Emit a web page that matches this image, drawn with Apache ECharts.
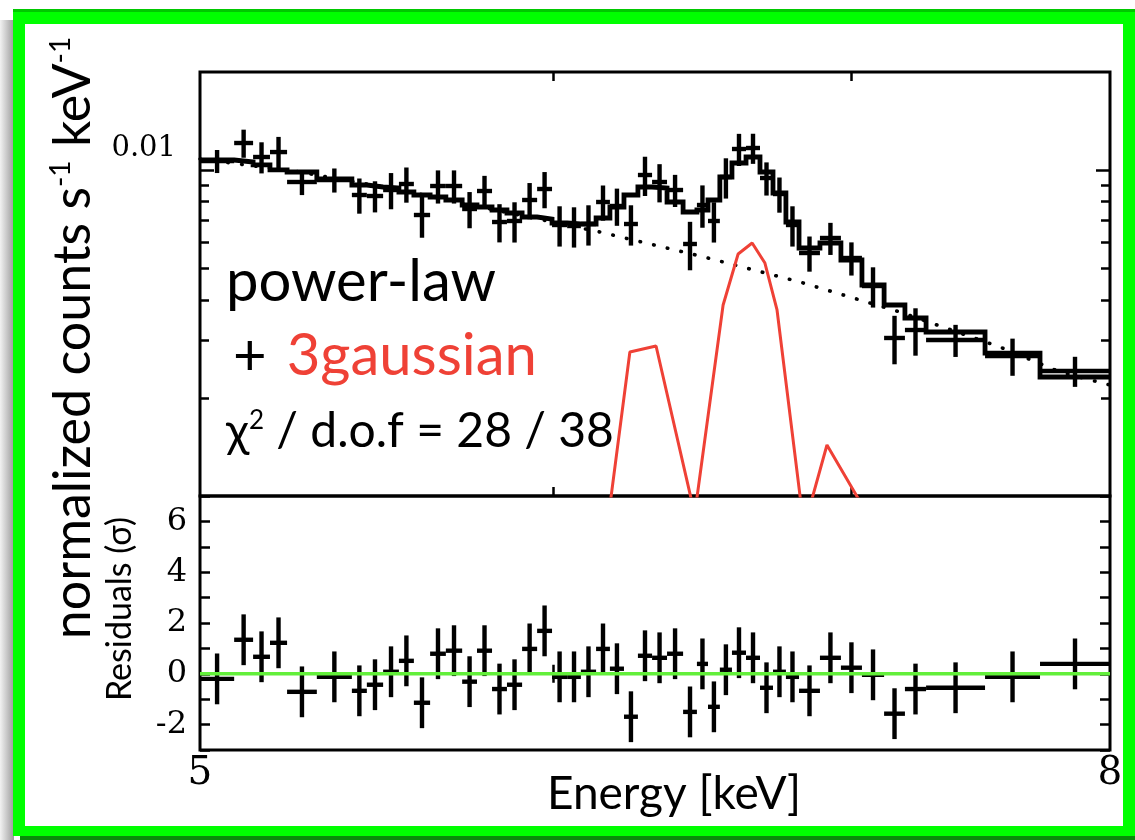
<!DOCTYPE html>
<html><head><meta charset="utf-8">
<script src="https://cdn.jsdelivr.net/npm/echarts@6/dist/echarts.min.js"></script>
<style>html,body{margin:0;padding:0;background:#fff;}#c{width:1135px;height:840px;}</style>
</head><body><div id="c"></div>
<script>
// ---- data (energy in keV) ----
const binEdges = [5.000,5.089,5.139,5.184,5.230,5.311,5.408,5.450,5.496,5.541,5.584,5.631,5.677,5.725,5.769,5.814,5.859,5.905,5.951,5.997,6.044,6.087,6.135,6.179,6.224,6.269,6.315,6.364,6.417,6.463,6.500,6.540,6.581,6.629,6.677,6.722,6.767,6.813,6.887,6.962,7.038,7.119,7.196,7.275,7.500,7.716,8.000];
const counts = [0.01066,0.01211,0.01097,0.01136,0.009194,0.009324,0.008387,0.008328,0.008688,0.009065,0.007282,0.008937,0.008937,0.007597,0.008627,0.006930,0.006980,0.008096,0.008750,0.006785,0.006737,0.006833,0.007982,0.007760,0.006833,0.009660,0.009194,0.008688,0.005933,0.007815,0.006980,0.009524,0.011608,0.011690,0.009457,0.008446,0.006785,0.005567,0.006190,0.005374,0.004409,0.003054,0.003231,0.003011,0.002689,0.002418];
const countErr = [0.000866,0.001198,0.001201,0.001284,0.000812,0.000791,0.001037,0.000912,0.001105,0.001121,0.001081,0.001042,0.001042,0.000966,0.000975,0.000930,0.000986,0.001030,0.001113,0.000959,0.000952,0.000966,0.000987,0.001014,0.000966,0.001331,0.001234,0.000982,0.001006,0.001160,0.000986,0.001346,0.001312,0.001239,0.001103,0.001044,0.000959,0.000688,0.000699,0.000627,0.000623,0.000518,0.000536,0.000340,0.000351,0.000256];
const model = [0.01074,0.01059,0.01037,0.01001,0.009867,0.009391,0.009001,0.008875,0.008812,0.008566,0.008387,0.008269,0.008096,0.007815,0.007705,0.007544,0.007385,0.007179,0.007079,0.006882,0.006833,0.006833,0.007129,0.007705,0.008387,0.008875,0.008812,0.007982,0.007438,0.007544,0.008096,0.009524,0.010514,0.010970,0.009867,0.008506,0.006930,0.005767,0.005975,0.005299,0.004441,0.003855,0.003517,0.003186,0.002746,0.002318];
const resid = [-0.2,1.34,0.67,1.22,-0.71,-0.12,-0.67,-0.43,0.08,0.51,-1.14,0.79,0.91,-0.31,0.91,-0.6,-0.43,0.98,1.69,-0.12,-0.12,0.08,0.98,0.2,-1.69,0.71,0.63,0.79,-1.5,0.39,-1.3,0.16,0.83,0.63,-0.55,0.08,-0.12,-0.67,0.63,0.24,-0.04,-1.57,-0.6,-0.55,-0.12,0.39];
const residErr = 1.0;
const contE = [5.000,5.265,5.544,5.838,6.147,6.473,6.816,7.178,7.558,7.796,8.000];
const contVal = [0.01082,0.009867,0.008688,0.007490,0.006457,0.005451,0.004536,0.003669,0.002865,0.002402,0.002191];
const g1E = [6.173,6.243,6.328,6.460];
const g1Val = [0.000844,0.002766,0.002886,0.000844];
const g2E = [6.453,6.551,6.602,6.650,6.694,6.736,6.827];
const g2Val = [0.000844,0.003855,0.005528,0.005975,0.005187,0.003722,0.000844];
const g3E = [6.838,6.912,7.038];
const g3Val = [0.000844,0.001434,0.000939];
// axis ticks / labels
const xTickVals = [6, 7];
const xLabelVals = [5, 8];
const yTopTickVals = [0.002,0.003,0.004,0.005,0.006,0.007,0.008,0.009];
const yTopMajorVals = [0.01];
const yTopLabelVals = [0.01];
const resLabelVals = [-2, 0, 2, 4, 6];

// ---- build series data ----
const crossData = counts.map((v, i) => [binEdges[i], binEdges[i+1], Math.sqrt(binEdges[i]*binEdges[i+1]), v, countErr[i]]);
const residData = resid.map((v, i) => [binEdges[i], binEdges[i+1], Math.sqrt(binEdges[i]*binEdges[i+1]), v, residErr]);
const stepData = [];
model.forEach((m, i) => { stepData.push([binEdges[i], m]); stepData.push([binEdges[i+1], m]); });
const pairs = (xs, ys) => xs.map((x, i) => [x, ys[i]]);

function crossItem(params, api) {
  const lo = api.value(0), hi = api.value(1), c = api.value(2), y = api.value(3), e = api.value(4);
  const a = api.coord([lo, y]), b = api.coord([hi, y]);
  const t = api.coord([c, y + e]), d = api.coord([c, y - e]);
  const st = {stroke: '#000', lineWidth: 4.4};
  return {type: 'group', children: [
    {type: 'line', shape: {x1: a[0], y1: a[1], x2: b[0], y2: b[1]}, style: st},
    {type: 'line', shape: {x1: t[0], y1: t[1], x2: d[0], y2: d[1]}, style: st}
  ]};
}

const tickStyle = {color: '#000', width: 2.5};
function xAx(grid, pos, labels) {
  return {
    type: 'log', logBase: 10, min: 5, max: 8, gridIndex: grid, position: pos,
    axisLine: {show: false}, splitLine: {show: false},
    axisTick: {show: true, inside: true, length: 9, customValues: xTickVals, lineStyle: tickStyle},
    axisLabel: labels ? {show: true, customValues: xLabelVals, color: '#000', fontFamily: 'DejaVu Serif', fontSize: 39, margin: 4} : {show: false}
  };
}
function yTop(pos, ticks, len, labels) {
  return {type: 'log', logBase: 10, min: 0.001, max: 0.02, gridIndex: 0, position: pos,
    axisLine: {show: false}, splitLine: {show: false},
    axisTick: {show: true, inside: true, length: len, customValues: ticks, lineStyle: tickStyle},
    axisLabel: labels ? {show: true, customValues: yTopLabelVals, color: '#000', fontFamily: 'DejaVu Serif', fontSize: 29, margin: 24, verticalAlign: 'bottom', padding: [0, 0, 7, 0]} : {show: false}};
}
const font = 'Lato, "Open Sans", sans-serif';

const chart = echarts.init(document.getElementById('c'), null, {renderer: 'canvas'});
chart.setOption({
  animation: false,
  backgroundColor: '#fff',
  grid: [
    {left: 200, top: 72, width: 910, height: 424, show: true, borderColor: '#000', borderWidth: 3, backgroundColor: 'transparent'},
    {left: 200, top: 496, width: 910, height: 254, show: true, borderColor: '#000', borderWidth: 3, backgroundColor: 'transparent'}
  ],
  xAxis: [xAx(0, 'bottom', false), xAx(0, 'top', false), xAx(1, 'bottom', true), xAx(1, 'top', false)],
  yAxis: [
    yTop('left', yTopTickVals, 9, true),
    yTop('right', yTopTickVals, 9, false),
    {type: 'value', min: -3, max: 7, interval: 1, gridIndex: 1, position: 'left',
     axisLine: {show: false}, splitLine: {show: false},
     axisTick: {show: true, inside: true, length: 10, lineStyle: tickStyle},
     axisLabel: {show: true, customValues: resLabelVals, color: '#000', fontFamily: 'DejaVu Serif', fontSize: 32, margin: 13}},
    {type: 'value', min: -3, max: 7, interval: 1, gridIndex: 1, position: 'right',
     axisLine: {show: false}, splitLine: {show: false},
     axisTick: {show: true, inside: true, length: 10, lineStyle: tickStyle},
     axisLabel: {show: false}},
    yTop('left', yTopMajorVals, 14, false),
    yTop('right', yTopMajorVals, 14, false)
  ],
  series: [
    {type: 'line', xAxisIndex: 0, yAxisIndex: 0, data: pairs(contE, contVal), symbol: 'none', clip: true,
     lineStyle: {color: '#000', width: 3.6, type: [0.5, 13.5], cap: 'round'}, z: 2},
    {type: 'line', xAxisIndex: 0, yAxisIndex: 0, data: pairs(g1E, g1Val), symbol: 'none', clip: true,
     lineStyle: {color: '#ef4136', width: 3}, z: 3},
    {type: 'line', xAxisIndex: 0, yAxisIndex: 0, data: pairs(g2E, g2Val), symbol: 'none', clip: true,
     lineStyle: {color: '#ef4136', width: 3}, z: 3},
    {type: 'line', xAxisIndex: 0, yAxisIndex: 0, data: pairs(g3E, g3Val), symbol: 'none', clip: true,
     lineStyle: {color: '#ef4136', width: 3}, z: 3},
    {type: 'line', xAxisIndex: 0, yAxisIndex: 0, data: stepData, symbol: 'none', clip: true,
     lineStyle: {color: '#000', width: 4.8, join: 'miter'}, z: 4},
    {type: 'custom', xAxisIndex: 0, yAxisIndex: 0, data: crossData, renderItem: crossItem, clip: true,
     encode: {x: 2, y: 3}, z: 5},
    {type: 'custom', xAxisIndex: 2, yAxisIndex: 2, data: residData, renderItem: crossItem, clip: true,
     encode: {x: 2, y: 3}, z: 5},
    {type: 'line', xAxisIndex: 2, yAxisIndex: 2, data: [[5, 0], [8, 0]], symbol: 'none',
     lineStyle: {color: '#62ef3a', width: 3.5}, z: 6}
  ],
  graphic: [
    // shadow and frame
    {type: 'rect', shape: {x: 0, y: 20, width: 14, height: 820}, z: 100,
     style: {fill: new echarts.graphic.LinearGradient(0, 0, 1, 0, [{offset: 0, color: '#f2f2f2'}, {offset: 1, color: '#9c9c9c'}])}},
    {type: 'rect', shape: {x: 13, y: 9, width: 1122, height: 15}, style: {fill: '#00ff00'}, z: 101},
    {type: 'rect', shape: {x: 13, y: 9, width: 1122, height: 3}, style: {fill: '#00c800'}, z: 102},
    {type: 'rect', shape: {x: 13, y: 9, width: 12, height: 827}, style: {fill: '#00ff00'}, z: 101},
    {type: 'rect', shape: {x: 1123, y: 9, width: 12, height: 827}, style: {fill: '#00ff00'}, z: 101},
    {type: 'rect', shape: {x: 13, y: 826, width: 1122, height: 10}, style: {fill: '#00ff00'}, z: 101},
    {type: 'rect', shape: {x: 20, y: 836, width: 1115, height: 4}, style: {fill: '#0a8a0a'}, z: 101},
    // axis titles
    {type: 'text', x: 73, y: 338, rotation: Math.PI / 2, z: 50,
     style: {text: 'normalized counts s{sup|-1} keV{sup|-1}', fontFamily: font, fontSize: 52, fill: '#000',
             align: 'center', verticalAlign: 'middle',
             rich: {sup: {fontFamily: font, fontSize: 28, fill: '#000', verticalAlign: 'top'}}}},
    {type: 'text', x: 120, y: 609, rotation: Math.PI / 2, z: 50,
     style: {text: 'Residuals (σ)', fontFamily: font, fontSize: 34, fill: '#000', align: 'center', verticalAlign: 'middle'}},
    {type: 'text', x: 674, y: 794, z: 50,
     style: {text: 'Energy [keV]', fontFamily: font, fontSize: 46, fill: '#000', align: 'center', verticalAlign: 'middle'}},
    // annotations
    {type: 'text', x: 226, y: 282, z: 50,
     style: {text: 'power-law', fontFamily: font, fontSize: 58, fill: '#000', align: 'left', verticalAlign: 'middle'}},
    {type: 'text', x: 233, y: 356, z: 50,
     style: {text: '+{r|3gaussian}', fontFamily: font, fontSize: 58, fill: '#000', align: 'left', verticalAlign: 'middle',
             rich: {r: {fontFamily: font, fontSize: 58, fill: '#ef4136', padding: [0, 0, 0, 20]}}}},
    {type: 'text', x: 226, y: 432, z: 50,
     style: {text: 'χ{sup|2} / d.o.f = 28 / 38', fontFamily: font, fontSize: 48, fill: '#000', align: 'left', verticalAlign: 'middle',
             rich: {sup: {fontFamily: font, fontSize: 26, fill: '#000', verticalAlign: 'top'}}}}
  ]
});
</script>
</body></html>
